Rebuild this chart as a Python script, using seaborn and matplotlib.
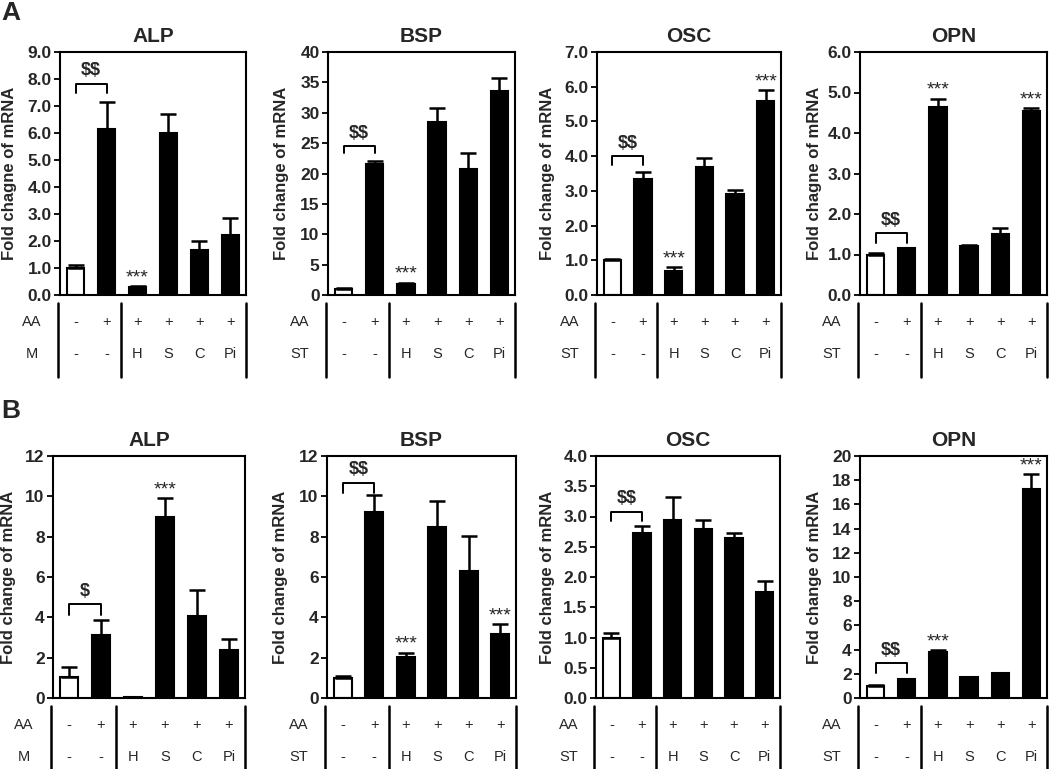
import numpy as np
import pandas as pd
import matplotlib
matplotlib.use("Agg")
import matplotlib.pyplot as plt
import matplotlib.transforms as mtransforms
from matplotlib.ticker import FormatStrFormatter
import seaborn as sns

# groups along the x axis
groups = ["ctrl", "AA", "H", "S", "C", "Pi"]
aa_row = ["-", "+", "+", "+", "+", "+"]
st_row = ["-", "-", "H", "S", "C", "Pi"]

# panel A (means and upper SD)
a_alp_mean = [1.0, 6.15, 0.3, 6.0, 1.68, 2.22]
a_alp_err = [0.1, 1.0, 0.03, 0.72, 0.32, 0.62]
a_bsp_mean = [1.0, 21.6, 1.8, 28.5, 20.7, 33.5]
a_bsp_err = [0.2, 0.5, 0.2, 2.2, 2.6, 2.3]
a_osc_mean = [1.0, 3.35, 0.7, 3.7, 2.92, 5.6]
a_osc_err = [0.04, 0.2, 0.1, 0.25, 0.1, 0.3]
a_opn_mean = [1.0, 1.15, 4.65, 1.2, 1.5, 4.55]
a_opn_err = [0.03, 0.02, 0.2, 0.03, 0.15, 0.06]

# panel B
b_alp_mean = [1.05, 3.1, 0.05, 9.0, 4.05, 2.4]
b_alp_err = [0.5, 0.75, 0.0, 0.9, 1.3, 0.55]
b_bsp_mean = [1.0, 9.2, 2.05, 8.5, 6.3, 3.15]
b_bsp_err = [0.1, 0.85, 0.2, 1.25, 1.75, 0.5]
b_osc_mean = [1.0, 2.72, 2.95, 2.8, 2.65, 1.76]
b_osc_err = [0.08, 0.13, 0.38, 0.14, 0.07, 0.18]
b_opn_mean = [1.0, 1.55, 3.8, 1.7, 2.05, 17.3]
b_opn_err = [0.05, 0.05, 0.15, 0.03, 0.05, 1.2]

# one entry per chart:
# title, means, errs, ymax, ystep, tick format, y label, 2nd row label,
# starred bars, bracket (top, leg bottom, text)
charts = [
    ("ALP", a_alp_mean, a_alp_err, 9, 1, "%.1f", "Fold chagne of mRNA", "M", [2], (7.83, 7.48, "$$")),
    ("BSP", a_bsp_mean, a_bsp_err, 40, 5, "%d", "Fold change of mRNA", "ST", [2], (24.5, 23.3, "$$")),
    ("OSC", a_osc_mean, a_osc_err, 7, 1, "%.1f", "Fold change of mRNA", "ST", [2, 5], (4.0, 3.74, "$$")),
    ("OPN", a_opn_mean, a_opn_err, 6, 1, "%.1f", "Fold chagne of mRNA", "ST", [2, 5], (1.53, 1.28, "$$")),
    ("ALP", b_alp_mean, b_alp_err, 12, 2, "%d", "Fold change of mRNA", "M", [3], (4.64, 4.14, "$")),
    ("BSP", b_bsp_mean, b_bsp_err, 12, 2, "%d", "Fold change of mRNA", "ST", [2, 5], (10.68, 10.18, "$$")),
    ("OSC", b_osc_mean, b_osc_err, 4, 0.5, "%.1f", "Fold change of mRNA", "ST", [], (3.08, 2.93, "$$")),
    ("OPN", b_opn_mean, b_opn_err, 20, 2, "%d", "Fold change of mRNA", "ST", [2, 5], (2.87, 2.04, "$$")),
]

# axes boxes in pixels: left, top, right, bottom
boxes = [
    (60, 52, 246, 295), (328, 52, 515, 295), (597, 52, 781, 295), (860, 52, 1047, 295),
    (53, 456, 245, 698), (327, 456, 516, 698), (596, 456, 780, 698), (860, 456, 1047, 698),
]
ylabel_x = [17, 289, 555, 822, 16, 288, 555, 822]

W, H = 1050, 769
sns.set_theme(style="white")
plt.rcParams["font.family"] = ["Liberation Sans", "DejaVu Sans"]

fig = plt.figure(figsize=(W / 100, H / 100), dpi=100)

for i, (title, means, errs, ymax, ystep, fmt, ylab, row2, stars, bracket) in enumerate(charts):
    l, t, r, b = boxes[i]
    ax = fig.add_axes([l / W, 1 - b / H, (r - l) / W, (b - t) / H])
    df = pd.DataFrame({"group": groups, "value": means})
    colors = ["white"] + ["black"] * 5
    sns.barplot(data=df, x="group", y="value", hue="group", palette=colors,
                legend=False, edgecolor="black", linewidth=1.5, width=0.56,
                errorbar=None, ax=ax)
    x = np.arange(len(groups))
    ax.errorbar(x, means, yerr=[np.zeros(len(errs)), errs], fmt="none",
                ecolor="black", elinewidth=1.8, capsize=6, capthick=1.8, zorder=1)

    ax.set_xlim(-0.5, 5.5)
    ax.set_ylim(0, ymax)
    ax.set_yticks(np.arange(0, ymax + ystep / 2, ystep))
    ax.yaxis.set_major_formatter(FormatStrFormatter(fmt))
    ax.set_xticks([])
    ax.set_xlabel("")
    ax.set_ylabel(ylab, fontsize=12, fontweight="bold")
    ax.yaxis.set_label_coords((ylabel_x[i] - l) / (r - l), 0.5)
    ax.set_title(title, fontsize=15, fontweight="bold", pad=7)
    ax.tick_params(axis="y", left=True, direction="out", length=4, width=1.3,
                   labelsize=12.5, pad=2, color="black")
    for lbl in ax.get_yticklabels():
        lbl.set_fontweight("bold")
    for sp in ax.spines.values():
        sp.set_color("black")
        sp.set_linewidth(1.5)

    # significance stars
    for s in stars:
        ax.annotate("***", (s, means[s] + errs[s]), xytext=(0, 0),
                    textcoords="offset points", ha="center", va="bottom", fontsize=14)

    # bracket between control and AA
    top, leg, txt = bracket
    ax.plot([0, 0, 1, 1], [leg, top, top, leg], color="black", lw=1.4)
    ax.annotate(txt, (0.5, top), xytext=(0, 3), textcoords="offset points",
                ha="center", va="bottom", fontsize=13, fontweight="bold",
                parse_math=False)

    # treatment table under the axes
    trans = mtransforms.blended_transform_factory(ax.transData, ax.transAxes)
    h = b - t
    y_top = -8 / h
    y_bot = -(82 if i < 4 else 72) / h
    y_aa = -27 / h
    y_st = -59 / h
    for xv in [-0.55, 1.47, 5.5]:
        ax.plot([xv, xv], [y_top, y_bot], color="black", lw=1.8,
                transform=trans, clip_on=False)
    ax.text(-1.4, y_aa, "AA", transform=trans, ha="center", va="center", fontsize=10.5)
    ax.text(-1.4, y_st, row2, transform=trans, ha="center", va="center", fontsize=10.5)
    for j in range(len(groups)):
        ax.text(x[j], y_aa, aa_row[j], transform=trans, ha="center", va="center", fontsize=10.5)
        ax.text(x[j], y_st, st_row[j], transform=trans, ha="center", va="center", fontsize=10.5)

fig.text(1 / W, 1 - 13 / H, "A", fontsize=19, fontweight="bold", va="center", ha="left")
fig.text(1 / W, 1 - 411 / H, "B", fontsize=19, fontweight="bold", va="center", ha="left")

fig.savefig("out.png", dpi=100)
